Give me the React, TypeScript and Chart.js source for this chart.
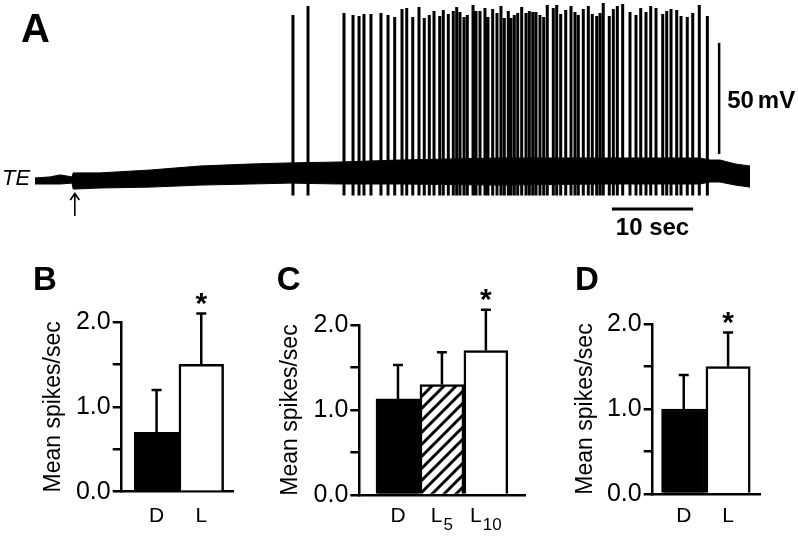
import React, { useEffect, useRef } from 'react';
import { Chart, registerables } from 'chart.js';

Chart.register(...registerables);

const FONT = '"Liberation Sans", Arial, Helvetica, sans-serif';

// ---------------- Panel A: membrane potential trace ----------------
// envelope of the noisy baseline (time in s, potential in mV relative)
const traceTimes = [0, 1.85, 3.1, 4.55, 4.7, 8.0, 14.2, 20.3, 26.5, 31.4, 37.5, 44.9, 57.2, 69.5, 81.8, 83.1, 84.3, 86.2, 88.0];
const traceUpper = [-0.1, 0.4, 1.3, 0.4, 2.2, 2.2, 3.5, 5.3, 6.2, 6.7, 7.1, 8.0, 8.9, 8.9, 8.9, 8.0, 8.0, 6.2, 5.3];
const traceLower = [-2.8, -2.8, -2.8, -2.4, -5.1, -4.6, -4.2, -3.3, -2.8, -2.4, -2.8, -2.8, -3.3, -2.8, -2.8, -1.9, -1.9, -3.3, -4.2];

// action potentials: time (s) and peak (mV)
const spikeTimes = [
  31.75, 33.6, 38.03, 39.14, 39.88, 40.49, 41.35, 42.58, 43.45, 44.27,
  45.17, 45.75, 46.49, 47.26, 47.91, 48.53, 49.11, 49.81, 50.25, 50.87, 51.48, 51.9, 52.31, 52.8, 53.21, 53.91, 54.28, 54.77, 55.38, 55.75, 56.33, 56.86,
  57.35, 57.76, 58.25, 58.58, 58.99, 59.41, 59.9, 60.43, 60.84, 61.26, 61.66, 62.15, 62.61, 63.05, 63.79, 64.21, 64.7, 65.32, 65.97, 66.46, 66.87, 67.48, 68.1, 68.59, 69.13, 69.54, 69.94,
  70.68, 71.18, 71.67, 72.33, 73.23, 73.97, 74.55, 75.2, 75.78, 76.43, 77.26, 77.75, 78.28, 78.98, 79.51, 80.28, 80.95, 81.76, 82.75,
];
const spikePeaks = [
  73.3, 77.3, 74.2, 73.3, 72.8, 73.7, 73.7, 74.2, 73.3, 72.4,
  76.0, 76.4, 72.4, 76.9, 71.9, 73.3, 75.1, 72.8, 75.5, 73.7, 75.1, 76.9, 74.6, 72.4, 73.3, 77.8, 75.1, 75.1, 76.4, 72.4, 76.0, 74.2,
  77.3, 71.9, 75.1, 71.9, 73.3, 74.2, 76.9, 74.2, 75.1, 74.6, 74.6, 73.3, 72.4, 77.8, 76.4, 77.8, 73.7, 75.5, 77.3, 74.6, 73.3, 76.0, 77.3, 73.7, 72.8, 74.2, 78.7,
  72.8, 76.0, 77.3, 78.2, 74.6, 73.3, 76.4, 74.6, 77.3, 76.4, 73.7, 75.1, 76.0, 75.5, 72.8, 72.4, 74.2, 77.8, 72.8,
];
const spikeTrough = -8;

// scale bars and stimulus marker
const voltBarTime = 84.2;
const voltBarRange = [10.7, 60.7]; // 50 mV
const timeBarRange = [71, 81]; // 10 s
const timeBarLevel = -14;
const stimulusTime = 4.9;

// ---------------- Panels B, C, D ----------------
const panelBLabels = ['D', 'L'];
const panelBMeans = [0.7, 1.5];
const panelBErrors = [0.5, 0.6];
const panelBSig = [false, true];

const panelCLabels = ['D', 'L', 'L'];
const panelCSubs = ['', '5', '10'];
const panelCMeans = [1.13, 1.3, 1.7];
const panelCErrors = [0.4, 0.38, 0.48];
const panelCSig = [false, false, true];

const panelDLabels = ['D', 'L'];
const panelDMeans = [1.0, 1.5];
const panelDErrors = [0.4, 0.4];
const panelDSig = [false, true];

const yTickValues = ['0.0', '1.0', '2.0'];

function TracePanel() {
  const ref = useRef<HTMLCanvasElement>(null);
  useEffect(() => {
    const labels = {
      id: 'traceLabels',
      afterDraw(chart: any) {
        const { ctx, scales } = chart;
        const x = scales.x;
        const y = scales.y;
        ctx.save();
        ctx.fillStyle = '#000';
        ctx.strokeStyle = '#000';
        ctx.textBaseline = 'alphabetic';
        ctx.textAlign = 'left';
        ctx.font = `bold 40px ${FONT}`;
        ctx.fillText('A', 21, 41.5);
        ctx.font = `italic 22px ${FONT}`;
        ctx.fillText('TE', 2, 185);
        // 50 mV label
        const vx = x.getPixelForValue(voltBarTime);
        const vy = y.getPixelForValue((voltBarRange[0] + voltBarRange[1]) / 2);
        ctx.font = `bold 24px ${FONT}`;
        ctx.fillText('50', vx + 8, vy + 9.5);
        const w50 = ctx.measureText('50').width;
        ctx.fillText('mV', vx + 8 + w50 + 4, vy + 9.5);
        // 10 sec label
        const tx = x.getPixelForValue((timeBarRange[0] + timeBarRange[1]) / 2);
        const ty = y.getPixelForValue(timeBarLevel);
        ctx.textAlign = 'center';
        ctx.fillText('10 sec', tx, ty + 26);
        // stimulus arrow
        const ax = x.getPixelForValue(stimulusTime);
        ctx.lineWidth = 1.6;
        ctx.beginPath();
        ctx.moveTo(ax, 216);
        ctx.lineTo(ax, 194);
        ctx.moveTo(ax - 4.5, 200);
        ctx.lineTo(ax, 193.5);
        ctx.lineTo(ax + 4.5, 200);
        ctx.stroke();
        ctx.restore();
      },
    };

    const spikeData: any[] = [];
    spikeTimes.forEach((t, i) => {
      spikeData.push({ x: t, y: spikeTrough }, { x: t, y: spikePeaks[i] }, { x: t, y: null });
    });

    const chart = new Chart(ref.current!, {
      type: 'line',
      data: {
        datasets: [
          {
            data: traceTimes.map((t, i) => ({ x: t, y: traceUpper[i] })),
            borderColor: '#000',
            borderWidth: 1,
            backgroundColor: '#000',
            fill: '+1',
            pointRadius: 0,
            tension: 0,
          },
          {
            data: traceTimes.map((t, i) => ({ x: t, y: traceLower[i] })),
            borderColor: '#000',
            borderWidth: 1,
            fill: false,
            pointRadius: 0,
            tension: 0,
          },
          {
            data: spikeData,
            borderColor: '#000',
            borderWidth: 3,
            fill: false,
            pointRadius: 0,
            spanGaps: false,
            borderCapStyle: 'butt',
          },
          {
            data: voltBarRange.map((v) => ({ x: voltBarTime, y: v })),
            borderColor: '#000',
            borderWidth: 2.5,
            fill: false,
            pointRadius: 0,
          },
          {
            data: timeBarRange.map((t) => ({ x: t, y: timeBarLevel })),
            borderColor: '#000',
            borderWidth: 3,
            fill: false,
            pointRadius: 0,
          },
        ],
      },
      options: {
        responsive: false,
        animation: false,
        devicePixelRatio: 1,
        layout: { padding: { left: 35, right: 48, top: 0, bottom: 0 } },
        plugins: { legend: { display: false }, tooltip: { enabled: false } },
        scales: {
          x: { type: 'linear', display: false, min: 0, max: 88 },
          y: { type: 'linear', display: false, min: -28, max: 80 },
        },
      } as any,
      plugins: [labels],
    });
    return () => chart.destroy();
  }, []);
  return (
    <canvas
      ref={ref}
      width={798}
      height={240}
      style={{ position: 'absolute', left: 0, top: 0, width: 798, height: 240 }}
    />
  );
}

type PanelProps = {
  left: number;
  letter: string;
  letterX: number;
  labels: string[];
  subs: string[];
  means: number[];
  errors: number[];
  sig: boolean[];
  fills: string[];
  area: { left: number; top: number; right: number; bottom: number };
  titleX: number;
  xMin: number;
  xMax: number;
};

const PW = 266;
const PH = 299;
const X_H = 30;
const TITLE_SIZE = 23;
const TICK_SIZE = 25;

function makeHatch(): CanvasPattern | string {
  const s = 12;
  const c = document.createElement('canvas');
  c.width = s;
  c.height = s;
  const g = c.getContext('2d');
  if (!g) return '#888';
  g.fillStyle = '#fff';
  g.fillRect(0, 0, s, s);
  g.strokeStyle = '#000';
  g.lineWidth = 3;
  g.beginPath();
  g.moveTo(-1, s + 1);
  g.lineTo(s + 1, -1);
  g.moveTo(-s / 2 - 1, s / 2 + 1);
  g.lineTo(s / 2 + 1, -s / 2 - 1);
  g.moveTo(s / 2 - 1, s * 1.5 + 1);
  g.lineTo(s * 1.5 + 1, s / 2 - 1);
  g.stroke();
  const p = g.createPattern(c, 'repeat');
  return p || '#888';
}

function BarPanel(props: PanelProps) {
  const ref = useRef<HTMLCanvasElement>(null);
  useEffect(() => {
    const { area } = props;
    const padLeft = props.titleX - (TITLE_SIZE * 1.2) / 2;
    const yW = area.left - padLeft;
    const fills = props.fills.map((f) => (f === 'hatch' ? makeHatch() : f));

    const extras = {
      id: 'barExtras',
      afterDraw(chart: any) {
        const { ctx, scales } = chart;
        const y = scales.y;
        const meta = chart.getDatasetMeta(0);
        ctx.save();
        ctx.strokeStyle = '#000';
        ctx.fillStyle = '#000';
        ctx.lineWidth = 2.5;
        meta.data.forEach((bar: any, i: number) => {
          const top = y.getPixelForValue(props.means[i] + props.errors[i]);
          ctx.beginPath();
          ctx.moveTo(bar.x, bar.y);
          ctx.lineTo(bar.x, top);
          ctx.moveTo(bar.x - 5, top);
          ctx.lineTo(bar.x + 5, top);
          ctx.stroke();
          if (props.sig[i]) {
            ctx.font = `bold 30px ${FONT}`;
            ctx.textAlign = 'center';
            ctx.textBaseline = 'alphabetic';
            ctx.fillText('*', bar.x, top - 1);
          }
          // category label with optional subscript
          const main = props.labels[i];
          const sub = props.subs[i];
          ctx.textBaseline = 'alphabetic';
          ctx.textAlign = 'left';
          ctx.font = `21px ${FONT}`;
          const wm = ctx.measureText(main).width;
          ctx.font = `17px ${FONT}`;
          const ws = sub ? ctx.measureText(sub).width + 1 : 0;
          const x0 = bar.x - (wm + ws) / 2;
          ctx.font = `21px ${FONT}`;
          ctx.fillText(main, x0, 281.7);
          if (sub) {
            ctx.font = `17px ${FONT}`;
            ctx.fillText(sub, x0 + wm + 1, 290);
          }
        });
        ctx.font = `bold 33px ${FONT}`;
        ctx.textAlign = 'left';
        ctx.textBaseline = 'alphabetic';
        ctx.fillText(props.letter, props.letterX, 50);
        ctx.restore();
      },
    };

    const chart = new Chart(ref.current!, {
      type: 'bar',
      data: {
        datasets: [
          {
            data: props.means.map((m, i) => ({ x: i + 1, y: m })),
            backgroundColor: fills as any,
            borderColor: '#000',
            borderWidth: 2.5,
            barPercentage: 1,
            categoryPercentage: 1,
          },
        ],
      },
      options: {
        responsive: false,
        animation: false,
        devicePixelRatio: 1,
        layout: {
          padding: {
            left: padLeft,
            top: area.top,
            right: PW - area.right,
            bottom: PH - area.bottom - X_H,
          },
        },
        plugins: { legend: { display: false }, tooltip: { enabled: false } },
        scales: {
          x: {
            type: 'linear',
            min: props.xMin,
            max: props.xMax,
            offset: false,
            z: 1,
            grid: { display: false, drawTicks: false },
            ticks: { display: false },
            border: { display: true, color: '#000', width: 2.5 },
            afterFit: (s: any) => {
              s.height = X_H;
            },
          },
          y: {
            type: 'linear',
            min: 0,
            max: 2,
            z: 1,
            grid: {
              display: true,
              drawOnChartArea: false,
              drawTicks: true,
              tickLength: 9,
              color: '#000',
              lineWidth: 2.5,
            },
            border: { display: true, color: '#000', width: 2.5 },
            ticks: {
              stepSize: 0.5,
              color: '#000',
              padding: 2,
              font: { family: FONT, size: TICK_SIZE },
              callback: (v: any) => {
                const n = Number(v);
                const r = Math.round(n);
                return Math.abs(n - r) < 1e-6 ? yTickValues[r] : '';
              },
            },
            title: {
              display: true,
              text: 'Mean spikes/sec',
              color: '#000',
              font: { family: FONT, size: TITLE_SIZE },
              padding: 0,
            },
            afterFit: (s: any) => {
              s.width = yW;
            },
          },
        },
      } as any,
      plugins: [extras],
    });
    return () => chart.destroy();
  }, []);
  return (
    <canvas
      ref={ref}
      width={PW}
      height={PH}
      style={{ position: 'absolute', left: props.left, top: 240, width: PW, height: PH }}
    />
  );
}

export default function App() {
  return (
    <div
      style={{
        position: 'absolute',
        left: 0,
        top: 0,
        width: 798,
        height: 539,
        background: '#fff',
        overflow: 'hidden',
      }}
    >
      <TracePanel />
      <BarPanel
        left={0}
        letter="B"
        letterX={33}
        labels={panelBLabels}
        subs={['', '']}
        means={panelBMeans}
        errors={panelBErrors}
        sig={panelBSig}
        fills={['#000', '#fff']}
        area={{ left: 121.7, top: 82, right: 233, bottom: 251.7 }}
        titleX={54}
        xMin={0.22}
        xMax={2.71}
      />
      <BarPanel
        left={266}
        letter="C"
        letterX={10.7}
        labels={panelCLabels}
        subs={panelCSubs}
        means={panelCMeans}
        errors={panelCErrors}
        sig={panelCSig}
        fills={['#000', 'hatch', '#fff']}
        area={{ left: 93.3, top: 85, right: 259, bottom: 255 }}
        titleX={24.5}
        xMin={0.12}
        xMax={3.89}
      />
      <BarPanel
        left={532}
        letter="D"
        letterX={43}
        labels={panelDLabels}
        subs={['', '']}
        means={panelDMeans}
        errors={panelDErrors}
        sig={panelDSig}
        fills={['#000', '#fff']}
        area={{ left: 120.7, top: 84, right: 228, bottom: 254 }}
        titleX={54}
        xMin={0.3}
        xMax={2.72}
      />
    </div>
  );
}
